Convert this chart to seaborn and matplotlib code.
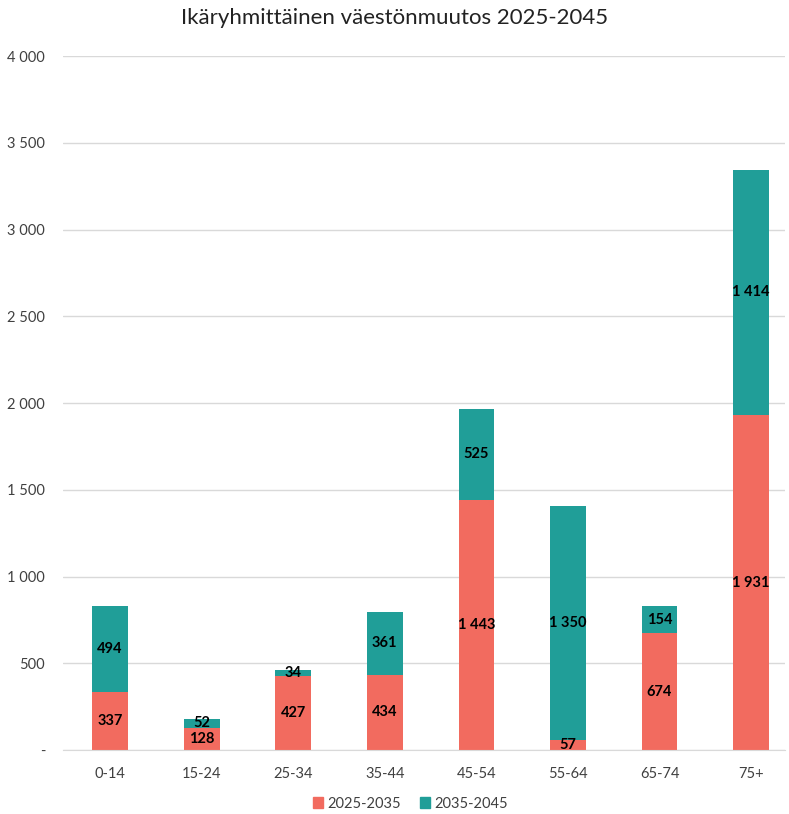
import matplotlib
matplotlib.use("Agg")
import matplotlib.pyplot as plt
from matplotlib.patches import Patch
from matplotlib.ticker import FuncFormatter
import seaborn as sns
import pandas as pd

# Data
groups = ["0-14", "15-24", "25-34", "35-44", "45-54", "55-64", "65-74", "75+"]
change_2025_2035 = [337, 128, 427, 434, 1443, 57, 674, 1931]
change_2035_2045 = [494, 52, 34, 361, 525, 1350, 154, 1414]

red = "#F26B5F"
teal = "#209E98"

sns.set_style("white")
plt.rcParams["font.family"] = ["Lato", "DejaVu Sans"]

df = pd.DataFrame({"group": groups, "a": change_2025_2035, "b": change_2035_2045})
df["total"] = df["a"] + df["b"]

fig = plt.figure(figsize=(7.89, 8.14), dpi=100)
ax = fig.add_axes([0.08, 0.0786, 0.915, 0.8525])

# stacked bars: total in teal, first period drawn over it in red
sns.barplot(data=df, x="group", y="total", color=teal, width=0.39, ax=ax,
            saturation=1, linewidth=0)
sns.barplot(data=df, x="group", y="a", color=red, width=0.39, ax=ax,
            saturation=1, linewidth=0)

def fmt(v):
    return f"{int(v):,}".replace(",", " ")

for i, row in df.iterrows():
    ax.text(i, row["a"] / 2, fmt(row["a"]), ha="center", va="center",
            fontsize=10.5, fontweight="bold", color="black")
    ax.text(i, row["a"] + row["b"] / 2, fmt(row["b"]), ha="center", va="center",
            fontsize=10.5, fontweight="bold", color="black")

ax.set_ylim(0, 4000)
ax.set_yticks(range(0, 4001, 500))
ax.yaxis.set_major_formatter(FuncFormatter(lambda v, p: "-" if v == 0 else fmt(v)))
ax.grid(axis="y", color="#D9D9D9", linewidth=1)
ax.set_axisbelow(True)
for s in ["top", "right", "left"]:
    ax.spines[s].set_visible(False)
ax.spines["bottom"].set_color("#D9D9D9")
ax.tick_params(axis="both", length=0, labelsize=10.5, colors="#404040")
ax.tick_params(axis="y", pad=13)
ax.tick_params(axis="x", pad=12)
ax.set_xlabel("")
ax.set_ylabel("")
ax.set_xlim(-0.513, 7.371)

fig.suptitle("Ikäryhmittäinen väestönmuutos 2025-2045", fontsize=16, y=0.99, color="#222222")

handles = [Patch(color=red, label="2025-2035"), Patch(color=teal, label="2035-2045")]
fig.legend(handles=handles, loc="lower center", ncol=2, frameon=False,
           bbox_to_anchor=(0.52, -0.012), fontsize=10.5, handlelength=0.7,
           handleheight=0.7, handletextpad=0.3, columnspacing=1.3,
           labelcolor="#404040")

fig.savefig("out.png", dpi=100)
